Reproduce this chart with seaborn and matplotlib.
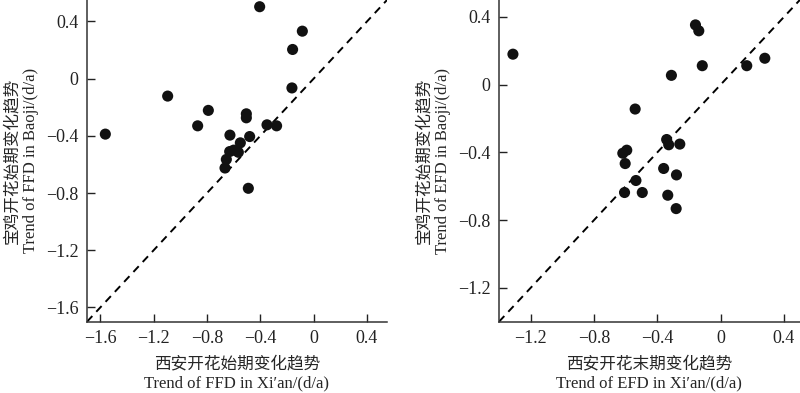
import matplotlib
matplotlib.use("Agg")
import matplotlib.pyplot as plt
import seaborn as sns
import pandas as pd

# ---------- FFD: first flowering date trends ----------
ffd_xian = [-0.405, -0.085, -0.158, -0.163, -1.095, -1.5625, -0.79, -0.87, -0.505, -0.505,
            -0.35, -0.278, -0.628, -0.48, -0.55, -0.565, -0.63, -0.60, -0.655, -0.665, -0.49]
ffd_baoji = [0.503, 0.332, 0.204, -0.065, -0.122, -0.388, -0.222, -0.33, -0.246, -0.274,
             -0.323, -0.33, -0.395, -0.405, -0.449, -0.515, -0.51, -0.50, -0.565, -0.625, -0.767]

# ---------- EFD: end flowering date trends ----------
efd_xian = [-1.312, -0.159, -0.138, -0.116, 0.165, 0.279, -0.311, -0.54, -0.341, -0.328,
            -0.258, -0.618, -0.593, -0.603, -0.36, -0.535, -0.279, -0.607, -0.495, -0.334, -0.281]
efd_baoji = [0.18, 0.353, 0.318, 0.112, 0.112, 0.156, 0.055, -0.144, -0.324, -0.355,
             -0.351, -0.405, -0.387, -0.466, -0.495, -0.566, -0.533, -0.637, -0.637, -0.653, -0.732]

ffd_ticks = [-1.6, -1.2, -0.8, -0.4, 0, 0.4]
ffd_labels = ["\u22121.6", "\u22121.2", "\u22120.8", "\u22120.4", "0", "0.4"]
efd_ticks = [-1.2, -0.8, -0.4, 0, 0.4]
efd_labels = ["\u22121.2", "\u22120.8", "\u22120.4", "0", "0.4"]

ffd_df = pd.DataFrame({"x": ffd_xian, "y": ffd_baoji})
efd_df = pd.DataFrame({"x": efd_xian, "y": efd_baoji})

sns.set_style("ticks")
plt.rcParams["font.family"] = ["Liberation Serif", "Noto Sans CJK SC", "DejaVu Sans"]

fig = plt.figure(figsize=(8, 3.93), dpi=100)
ax1 = fig.add_axes([0.10875, 0.1814, 0.375, 0.8186])
ax2 = fig.add_axes([0.62375, 0.1814, 0.376, 0.8186])

panels = [
    (ax1, ffd_df, (-1.7, 0.55), ffd_ticks, ffd_labels,
     "西安开花始期变化趋势\nTrend of FFD in Xi\u2032an/(d/a)",
     "宝鸡开花始期变化趋势\nTrend of FFD in Baoji/(d/a)"),
    (ax2, efd_df, (-1.4, 0.5), efd_ticks, efd_labels,
     "西安开花末期变化趋势\nTrend of EFD in Xi\u2032an/(d/a)",
     "宝鸡开花始期变化趋势\nTrend of EFD in Baoji/(d/a)"),
]

for ax, df, lim, ticks, labels, xlab, ylab in panels:
    ax.axline((0, 0), slope=1, color="black", lw=1.4, dashes=(4, 3), zorder=1)
    sns.scatterplot(data=df, x="x", y="y", ax=ax, s=64, color="#111111",
                    edgecolor="none", zorder=3)
    ax.set_xlim(lim)
    ax.set_ylim(lim)
    ax.set_xticks(ticks, labels)
    ax.set_yticks(ticks, labels)
    ax.tick_params(direction="in", length=6, width=1, pad=6, labelsize=13, colors="#222222")
    ax.set_xlabel(xlab, fontsize=12, linespacing=1.2, labelpad=7)
    ax.set_ylabel(ylab, fontsize=12, linespacing=1.2, labelpad=5)
    for side in ["top", "right"]:
        ax.spines[side].set_visible(False)
    for side in ["left", "bottom"]:
        ax.spines[side].set_linewidth(1.1)
        ax.spines[side].set_color("#333333")

fig.savefig("out.png", dpi=100)
